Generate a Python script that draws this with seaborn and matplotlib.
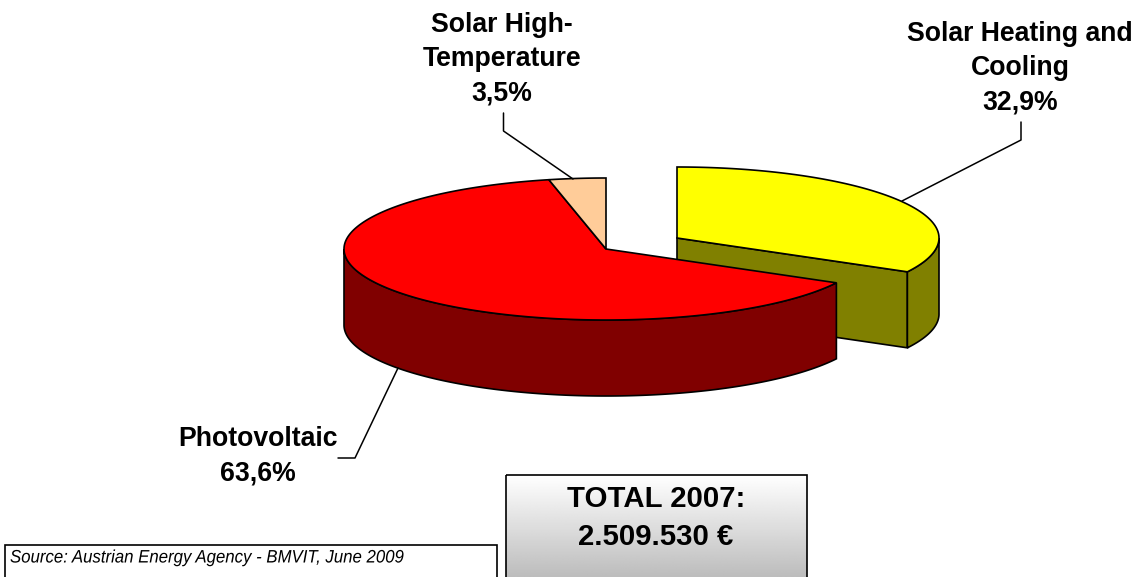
import numpy as np
import seaborn as sns
import matplotlib.pyplot as plt
from matplotlib.patches import Polygon, Rectangle
from matplotlib.patheffects import AbstractPathEffect
from matplotlib.transforms import Affine2D

labels = ["Solar Heating and\nCooling", "Photovoltaic", "Solar High-\nTemperature"]
shares = [32.9, 63.6, 3.5]
share_text = ["32,9%", "63,6%", "3,5%"]
top_colors = ["#ffff00", "#ff0000", "#ffcc99"]
side_colors = ["#808000", "#800000", "#993300"]
total_text = "TOTAL 2007:\n2.509.530 €"
source_text = "Source: Austrian Energy Agency - BMVIT, June 2009"

sns.set_theme(style="white")
plt.rcParams['font.family'] = ['Liberation Sans', 'DejaVu Sans']

fig = plt.figure(figsize=(11.38, 5.77), dpi=100)
ax = fig.add_axes([0, 0, 1, 1])
# axes run in pixels of the picture, y downwards
ax.set_xlim(0, 1138)
ax.set_ylim(577, 0)
ax.axis('off')

cx, cy = 606, 249
rx, ry = 262, 71
depth = 76
explode = [(71, -11), (0, 0), (0, 0)]


class Squeeze(AbstractPathEffect):
    # narrows the glyphs, there is no condensed font to pick
    def __init__(self, x0, factor):
        super().__init__()
        self.x0 = x0
        self.factor = factor

    def draw_path(self, renderer, gc, tpath, affine, rgbFace=None):
        squeeze = Affine2D().translate(-self.x0, 0).scale(self.factor, 1).translate(self.x0, 0)
        renderer.draw_path(gc, tpath, affine + squeeze, rgbFace)


def rim(t0, t1, ox, oy):
    # points on the ellipse, angle in degrees clockwise from 12 o'clock
    t = np.radians(np.linspace(t0, t1, max(int(abs(t1 - t0)) * 2, 2)))
    return np.column_stack([cx + ox + rx * np.sin(t), cy + oy - ry * np.cos(t)])


def draw_slice(t0, t1, ox, oy, top, side, cut_face):
    apex = np.array([cx + ox, cy + oy])
    shift = np.array([0, depth])
    if cut_face:
        # flat face from the centre to the end of the arc
        end = rim(t1, t1, ox, oy)[0]
        ax.add_patch(Polygon([apex, end, end + shift, apex + shift], fc=side, ec='black', lw=1.2))
    # outer wall, only the part that faces the viewer
    w0, w1 = max(t0, 90), min(t1, 270)
    if w1 > w0:
        arc = rim(w0, w1, ox, oy)
        ax.add_patch(Polygon(np.vstack([arc, (arc + shift)[::-1]]), fc=side, ec='black', lw=1.2))
    ax.add_patch(Polygon(np.vstack([[apex], rim(t0, t1, ox, oy)]), fc=top, ec='black', lw=1.2))


edges = np.concatenate([[0], np.cumsum(shares)]) / sum(shares) * 360
draw_slice(edges[0], edges[1], *explode[0], top_colors[0], side_colors[0], True)
draw_slice(edges[1], edges[2], *explode[1], top_colors[1], side_colors[1], False)
draw_slice(edges[2], edges[3], *explode[2], top_colors[2], side_colors[2], False)

# leader lines
ax.plot([902, 1021, 1021], [201, 140, 122], color='black', lw=1.1)
ax.plot([398, 355, 338], [368, 458, 458], color='black', lw=1.1)
ax.plot([573, 503.5, 503.5], [179, 131, 113], color='black', lw=1.1)

font = dict(fontsize=19.2, fontweight='bold', color='black', ha='center', va='center', linespacing=1.42)
ax.text(1020, 68, labels[0] + "\n" + share_text[0], **font)
ax.text(258, 456, labels[1] + "\n" + share_text[1], **font)
ax.text(502, 59, labels[2] + "\n" + share_text[2], **font)

# total box with grey gradient, runs off the bottom of the picture
grad = np.linspace(1, 0.74, 100).reshape(-1, 1)
ax.imshow(grad, cmap='gray', vmin=0, vmax=1, extent=[506, 807, 577, 475], aspect='auto', zorder=2)
ax.set_xlim(0, 1138)
ax.set_ylim(577, 0)
ax.add_patch(Rectangle((506, 475), 301, 110, fc='none', ec='black', lw=1.2, zorder=3))
ax.text(656, 518, total_text, fontsize=21.2, fontweight='bold', ha='center', va='center',
        linespacing=1.45, color='black', zorder=4)

ax.add_patch(Rectangle((5, 545), 492, 40, fc='white', ec='black', lw=1.2))
ax.text(10, 558, source_text, fontsize=13, style='italic', ha='left', va='center', color='black',
        path_effects=[Squeeze(10, 0.93)])

fig.savefig('out.png', dpi=100)
